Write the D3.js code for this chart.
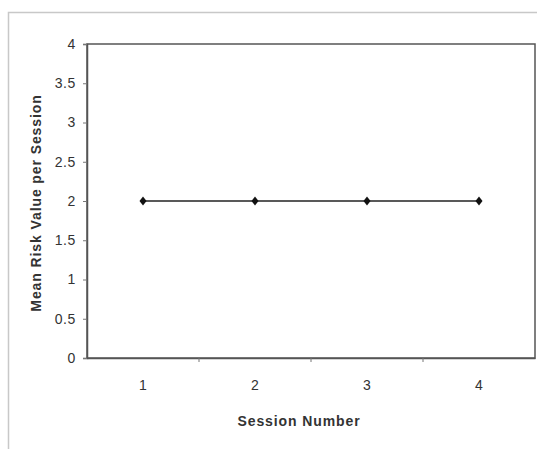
<!DOCTYPE html>
<html>
<head>
<meta charset="utf-8">
<script src="https://cdn.jsdelivr.net/npm/d3@7"></script>
<style>
  body { margin: 0; background: #fff; }
  svg { display: block; font-family: "Liberation Sans", Arial, sans-serif; }
</style>
</head>
<body>
<div id="wrapper"></div>
<script>
// data
const sessions = ["1", "2", "3", "4"]
const meanRisk = [2, 2, 2, 2]
const yTicks = [0, 0.5, 1, 1.5, 2, 2.5, 3, 3.5, 4]

const dimensions = {
    width: 537,
    height: 449,
    margin: { top: 44, right: 2, bottom: 91, left: 87 },
}
dimensions.boundedWidth = dimensions.width - dimensions.margin.left - dimensions.margin.right
dimensions.boundedHeight = dimensions.height - dimensions.margin.top - dimensions.margin.bottom

const wrapper = d3.select("#wrapper")
    .append("svg")
    .attr("width", dimensions.width)
    .attr("height", dimensions.height)

// outer chart frame (clipped at the right and bottom like the scan)
wrapper.append("path")
    .attr("d", `M8.5,${dimensions.height} V12.5 H${dimensions.width}`)
    .attr("fill", "none")
    .attr("stroke", "#c8c8c8")
    .attr("stroke-width", 1.5)

const bounds = wrapper.append("g")
    .attr("transform", `translate(${dimensions.margin.left},${dimensions.margin.top})`)

// scales
const xScale = d3.scaleBand()
    .domain(sessions)
    .range([0, dimensions.boundedWidth])

const yScale = d3.scaleLinear()
    .domain([0, 4])
    .range([dimensions.boundedHeight, 0])

// plot frame
bounds.append("rect")
    .attr("width", dimensions.boundedWidth)
    .attr("height", dimensions.boundedHeight)
    .attr("fill", "none")
    .attr("stroke", "#555")
    .attr("stroke-width", 1.5)

// y axis
const yAxis = bounds.append("g")
    .call(d3.axisLeft(yScale).tickValues(yTicks).tickSize(4).tickPadding(7).tickFormat(d3.format("")))
yAxis.select(".domain").attr("stroke", "#555").attr("stroke-width", 1.5)
yAxis.selectAll(".tick line").attr("stroke", "#777")
yAxis.selectAll("text")
    .attr("fill", "#333")
    .style("font-size", "14px")
    .style("letter-spacing", "0.6px")

// x axis: ticks sit between categories
const xAxis = bounds.append("g")
    .attr("transform", `translate(0,${dimensions.boundedHeight})`)
    .call(d3.axisBottom(xScale).tickSize(0).tickPadding(22))
xAxis.select(".domain").attr("stroke", "#555").attr("stroke-width", 1.5)
xAxis.selectAll("text")
    .attr("fill", "#333")
    .style("font-size", "14px")

xAxis.selectAll(".between-tick")
    .data(sessions.slice(1))
    .join("line")
    .attr("class", "between-tick")
    .attr("x1", d => xScale(d))
    .attr("x2", d => xScale(d))
    .attr("y1", 0)
    .attr("y2", 4)
    .attr("stroke", "#777")

// axis labels
bounds.append("text")
    .attr("x", dimensions.boundedWidth / 2 - 12)
    .attr("y", dimensions.boundedHeight + 68)
    .attr("text-anchor", "middle")
    .attr("fill", "#333")
    .style("font-size", "14px")
    .style("font-weight", "bold")
    .style("letter-spacing", "0.9px")
    .text("Session Number")

bounds.append("text")
    .attr("transform", `translate(${-46},${dimensions.boundedHeight / 2 + 2}) rotate(-90)`)
    .attr("text-anchor", "middle")
    .attr("fill", "#333")
    .style("font-size", "14px")
    .style("font-weight", "bold")
    .style("letter-spacing", "0.9px")
    .text("Mean Risk Value per Session")

// line + markers
const points = sessions.map((s, i) => ({ session: s, value: meanRisk[i] }))
const xCenter = d => xScale(d.session) + xScale.bandwidth() / 2

bounds.append("path")
    .datum(points)
    .attr("fill", "none")
    .attr("stroke", "#222")
    .attr("stroke-width", 1.5)
    .attr("d", d3.line().x(xCenter).y(d => yScale(d.value)))

bounds.selectAll(".dot")
    .data(points)
    .join("path")
    .attr("class", "dot")
    .attr("transform", d => `translate(${xCenter(d)},${yScale(d.value)})`)
    .attr("d", "M0,-4.5 L3.5,0 L0,4.5 L-3.5,0 Z")
    .attr("fill", "#111")
</script>
</body>
</html>
